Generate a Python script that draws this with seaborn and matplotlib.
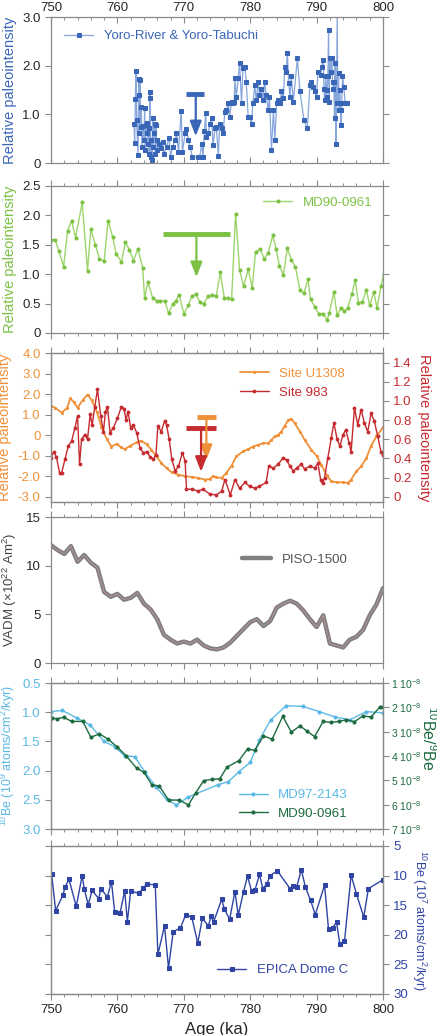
import seaborn as sns
import matplotlib.pyplot as plt
from matplotlib.ticker import MultipleLocator

# ---- Yoro-River & Yoro-Tabuchi (relative paleointensity)
yoro_age = [762.5, 762.6, 762.7, 762.8, 762.9, 763.1, 763.2, 763.25, 763.3, 763.4, 763.5, 763.6, 763.7,
            763.9, 764.0, 764.1, 764.2, 764.3, 764.4, 764.5, 764.6, 764.7, 764.8, 764.85, 764.9, 765.0,
            765.1, 765.2, 765.3, 765.4, 765.5, 765.6, 765.7, 765.8, 765.9, 766.0, 766.2, 766.5, 766.8,
            767.0, 767.4, 767.8, 768.0, 768.3, 768.7, 768.9, 769.2, 769.6, 769.8, 770.2, 770.4, 770.7,
            770.9, 771.3, 772.2, 772.4, 772.7, 772.9, 773.1, 773.3, 773.4, 773.7, 773.9, 774.2, 774.4,
            774.7, 774.9, 775.2, 775.4, 775.7, 775.9, 776.2, 776.4, 776.7, 776.9, 777.2, 777.4, 777.6,
            777.7, 777.9, 778.2, 778.4, 778.7, 778.9, 779.2, 779.4, 779.7, 779.9, 780.2, 780.4, 780.7,
            780.9, 781.2, 781.4, 781.7, 781.9, 782.2, 782.4, 782.7, 782.9, 783.2, 783.5, 783.7, 784.0,
            784.2, 784.5, 784.7, 785.0, 785.2, 785.4, 785.6, 785.8, 786.0, 786.2, 786.5, 787.1, 787.5,
            788.1, 788.6, 789.0, 789.2, 789.5, 789.7, 790.0, 790.2, 790.6, 790.8, 791.0, 791.1, 791.2,
            791.4, 791.5, 791.6, 791.7, 791.8, 791.9, 792.0, 792.1, 792.3, 792.4, 792.5, 792.6, 792.7,
            792.8, 792.9, 793.0, 793.1, 793.2, 793.3, 793.4, 793.5, 793.6, 793.7, 793.8, 793.9, 794.1,
            794.3, 794.6]
yoro_rpi = [0.81, 0.41, 1.31, 1.89, 0.89, 0.16, 1.40, 1.73, 0.61, 1.71, 0.74, 1.16, 0.33,
            0.76, 0.47, 1.14, 0.26, 0.78, 0.61, 0.83, 0.40, 0.71, 0.19, 1.33, 1.45, 0.12,
            0.47, 0.06, 0.92, 0.33, 0.61, 0.80, 0.19, 0.78, 0.47, 0.26, 0.40, 0.30, 0.43,
            0.19, 0.33, 0.52, 0.12, 0.33, 0.47, 0.62, 0.23, 1.07, 0.23, 0.61, 0.69, 0.47,
            0.33, 0.12, 0.12, 0.12, 0.40, 0.12, 0.66, 1.02, 0.54, 0.62, 0.81, 0.92, 0.36,
            0.71, 0.74, 0.14, 0.81, 0.71, 0.61, 1.05, 1.09, 1.23, 0.95, 1.26, 1.23, 1.26,
            1.74, 1.36, 1.74, 2.05, 1.23, 1.95, 1.98, 1.67, 0.95, 0.95, 0.81, 1.23, 1.60,
            1.29, 1.67, 1.40, 1.53, 1.29, 1.67, 1.40, 1.09, 1.36, 0.26, 1.09, 0.47, 1.23,
            1.29, 1.23, 1.47, 1.33, 1.98, 1.88, 2.26, 1.64, 1.36, 1.78, 1.26, 2.15, 1.47,
            0.88, 0.71, 1.60, 1.67, 1.57, 1.47, 1.36, 1.88, 1.81, 1.98, 2.12, 1.53, 1.29,
            1.78, 1.36, 1.50, 1.78, 2.74, 1.26, 2.15, 1.88, 2.15, 1.67, 1.53, 1.67, 0.92,
            2.05, 0.40, 1.23, 3.05, 1.23, 1.84, 1.09, 1.50, 1.09, 0.78, 1.23, 1.78, 1.57,
            1.23, 1.23]

# ---- MD90-0961 relative paleointensity
md90_age = [750.0, 750.6, 751.2, 751.9, 752.5, 753.1, 753.7, 754.7, 755.5, 756.0, 756.7, 757.3, 758.0,
            758.6, 759.3, 759.8, 760.6, 761.2, 761.8, 762.4, 763.1, 763.8, 764.1, 764.6, 765.3, 765.9,
            766.4, 767.1, 767.7, 768.4, 768.8, 769.3, 770.0, 770.7, 771.2, 771.8, 772.4, 773.0, 773.7,
            774.3, 774.9, 775.5, 776.1, 776.7, 777.2, 777.8, 778.4, 779.0, 779.7, 780.3, 780.8, 781.5,
            782.1, 782.7, 783.4, 783.9, 784.4, 785.0, 785.6, 786.2, 786.8, 787.5, 788.1, 788.7, 789.1,
            789.7, 790.3, 791.0, 791.6, 791.9, 792.6, 793.1, 793.7, 794.2, 794.7, 795.3, 795.8, 796.3,
            796.9, 797.5, 798.0, 798.6, 799.1, 799.7, 800.1]
md90_rpi = [1.58, 1.59, 1.39, 1.13, 1.74, 1.91, 1.62, 2.22, 1.06, 1.77, 1.49, 1.26, 1.22,
            1.91, 1.63, 1.35, 1.21, 1.54, 1.42, 1.23, 1.43, 1.11, 0.59, 0.87, 0.60, 0.55,
            0.54, 0.55, 0.34, 0.50, 0.55, 0.65, 0.33, 0.47, 0.63, 0.66, 0.53, 0.50, 0.63,
            0.65, 0.63, 1.03, 0.60, 0.60, 0.57, 2.03, 1.07, 0.80, 1.08, 0.77, 1.38, 1.43,
            1.26, 1.36, 1.66, 1.43, 1.14, 0.99, 1.44, 1.24, 1.13, 0.73, 0.68, 0.91, 0.57,
            0.45, 0.33, 0.33, 0.22, 0.34, 0.69, 0.30, 0.43, 0.37, 0.43, 0.66, 0.90, 0.51,
            0.53, 0.73, 0.47, 0.70, 0.43, 0.80, 1.00]

# ---- Site U1308 (left) and Site 983 (right)
u1308_age = [750.0, 750.6, 751.6, 752.4, 752.9, 753.4, 754.0, 754.8, 755.5, 756.1, 756.9, 757.6, 758.4,
             759.1, 759.9, 760.5, 761.1, 761.9, 762.9, 763.6, 764.4, 765.1, 765.9, 766.6, 767.4, 768.2,
             769.2, 770.2, 771.2, 772.2, 773.2, 773.9, 774.4, 774.9, 775.7, 776.4, 777.2, 777.9, 778.9,
             779.7, 780.4, 781.2, 781.9, 782.7, 783.2, 783.7, 784.2, 784.7, 785.2, 785.7, 786.2, 786.7,
             787.5, 788.2, 789.2, 790.0, 790.7, 791.5, 792.2, 793.0, 794.0, 794.7, 795.2, 796.0, 796.7,
             797.5, 798.2, 799.0, 800.0]
u1308_rpi = [1.44, 1.34, 1.10, 1.31, 1.79, 1.63, 1.34, 1.71, 1.98, 1.71, 1.15, 0.39, -0.19,
             -0.55, -0.42, -0.58, -0.68, -0.52, -0.35, -0.27, -0.44, -0.71, -1.03, -1.35, -1.60, -1.81,
             -1.92, -2.00, -2.03, -2.08, -2.16, -2.13, -2.00, -2.05, -2.08, -1.84, -1.48, -1.03, -0.79,
             -0.68, -0.55, -0.47, -0.39, -0.39, -0.23, -0.06, 0.02, 0.18, 0.45, 0.74, 0.79, 0.58,
             0.18, -0.23, -0.71, -1.00, -1.44, -1.92, -2.24, -2.29, -2.29, -2.32, -2.16, -1.76, -1.52,
             -1.11, -0.52, -0.06, 0.39]

s983_age = [750.0, 750.4, 750.8, 751.3, 751.6, 752.1, 752.6, 753.1, 753.6, 754.0, 754.3, 754.6, 755.1,
            755.5, 755.9, 756.2, 756.6, 757.0, 757.5, 757.9, 758.2, 758.5, 758.9, 759.4, 760.0, 760.6,
            761.0, 761.3, 761.6, 762.0, 762.4, 762.9, 763.4, 763.9, 764.4, 764.9, 765.4, 765.8, 766.1,
            766.6, 767.1, 767.4, 767.8, 768.2, 768.7, 769.2, 769.8, 770.2, 770.4, 771.2, 772.2, 772.9,
            773.9, 774.9, 775.7, 776.2, 777.0, 777.7, 778.4, 779.2, 779.9, 780.7, 781.4, 782.4, 782.8,
            783.5, 784.2, 785.0, 785.5, 786.0, 786.5, 787.0, 787.7, 788.2, 789.0, 789.7, 790.2, 790.6,
            790.9, 791.2, 791.7, 792.2, 792.6, 793.1, 793.5, 794.0, 794.4, 794.9, 795.2, 795.7, 796.2,
            796.7, 797.2, 797.7, 798.2, 798.7, 799.2, 799.7, 800.0]
s983_rpi = [0.41, 0.47, 0.42, 0.25, 0.25, 0.39, 0.53, 0.58, 0.72, 0.84, 0.34, 0.60, 0.65,
            0.60, 0.86, 0.75, 0.94, 1.12, 0.84, 0.68, 0.89, 0.94, 0.67, 0.72, 0.82, 0.94,
            0.92, 0.80, 0.89, 0.72, 0.75, 0.67, 0.51, 0.46, 0.47, 0.42, 0.39, 0.44, 0.74,
            0.68, 0.79, 0.75, 0.60, 0.39, 0.27, 0.32, 0.46, 0.37, 0.08, 0.08, 0.06, 0.08,
            0.03, 0.02, 0.06, 0.18, 0.02, 0.18, 0.09, 0.15, 0.11, 0.09, 0.11, 0.15, 0.32,
            0.30, 0.34, 0.41, 0.38, 0.32, 0.27, 0.30, 0.34, 0.29, 0.32, 0.30, 0.35, 0.18,
            0.14, 0.20, 0.41, 0.61, 0.77, 0.60, 0.53, 0.65, 0.70, 0.56, 0.47, 0.93, 0.75,
            0.91, 0.77, 0.68, 0.87, 0.79, 0.63, 0.47, 0.44]

# ---- PISO-1500 VADM
piso_age = list(range(750, 801))
piso_vadm = [12.1, 11.6, 11.2, 12.0, 10.4, 11.1, 10.3, 9.8, 7.3, 6.8, 7.1, 6.5, 6.7, 7.2, 6.1, 5.5, 4.5,
             2.9, 2.4, 2.0, 2.2, 2.0, 2.4, 1.8, 1.5, 1.4, 1.6, 2.1, 2.8, 3.5, 4.2, 4.5, 3.8, 4.3, 5.7,
             6.1, 6.4, 6.1, 5.4, 4.5, 3.7, 4.9, 2.0, 1.8, 1.6, 2.4, 2.7, 3.4, 4.9, 6.0, 7.7]

# ---- 10Be records
md97_age = [750.0, 751.7, 753.9, 755.9, 758.0, 759.6, 761.1, 762.6, 764.1, 765.8, 767.4, 768.9, 770.7,
            775.2, 776.7, 778.3, 780.0, 781.4, 783.1, 785.4, 787.9, 790.4, 792.7, 795.0, 797.5, 800.0]
md97_flux = [0.99, 0.97, 1.10, 1.22, 1.50, 1.59, 1.75, 1.76, 2.02, 2.28, 2.49, 2.59, 2.45,
             2.24, 2.19, 2.02, 1.86, 1.47, 1.13, 0.89, 0.90, 0.99, 1.08, 1.13, 0.99, 1.01]

md90be_age = [750.1, 750.9, 751.9, 753.1, 754.8, 756.0, 757.3, 758.6, 759.9, 761.3, 762.9, 764.0, 765.2,
              766.3, 767.7, 769.3, 770.7, 771.8, 773.0, 774.3, 775.4, 776.5, 778.3, 779.6, 780.7, 782.0,
              783.3, 784.9, 786.2, 787.5, 788.6, 789.7, 791.0, 792.1, 793.4, 794.5, 795.7, 797.0, 798.2,
              799.5, 800.0]
md90be_ratio = [2.44, 2.47, 2.41, 2.58, 2.58, 3.23, 3.09, 3.31, 3.61, 3.99, 4.50, 4.67, 5.19,
                5.23, 5.81, 5.81, 6.01, 5.51, 5.01, 4.96, 4.94, 4.46, 4.19, 3.71, 3.77, 3.17,
                3.31, 2.37, 3.02, 2.76, 2.99, 3.20, 2.58, 2.62, 2.58, 2.51, 2.59, 2.35, 2.40,
                1.99, 1.99]

epica_age = [750.1, 750.7, 751.8, 752.1, 752.7, 753.8, 754.7, 755.0, 755.6, 756.2, 757.2, 757.5, 758.5,
             759.1, 759.6, 760.4, 761.1, 761.5, 762.0, 763.2, 763.9, 764.4, 765.7, 766.1, 767.1, 767.7,
             768.4, 769.5, 770.3, 771.2, 772.1, 772.8, 773.7, 774.1, 774.5, 775.7, 776.1, 776.9, 777.7,
             778.2, 779.0, 779.6, 780.2, 780.7, 781.4, 781.9, 782.5, 783.0, 784.1, 786.0, 786.5, 787.0,
             787.7, 788.3, 789.1, 789.8, 791.2, 791.8, 792.4, 793.0, 793.5, 794.2, 795.2, 796.0, 797.1,
             797.8, 800.0]
epica_flux = [9.8, 15.9, 13.3, 12.0, 10.6, 15.2, 10.0, 12.2, 14.9, 12.5, 13.9, 12.2, 13.6,
              11.0, 16.2, 16.3, 12.6, 17.8, 12.6, 13.0, 12.1, 11.4, 11.6, 23.3, 18.5, 25.6,
              19.5, 18.8, 16.6, 17.0, 21.4, 17.2, 18.5, 16.9, 17.8, 14.0, 15.6, 17.4, 12.7,
              16.7, 12.7, 10.1, 12.6, 12.5, 9.8, 12.2, 11.4, 10.0, 9.2, 12.2, 11.7, 11.9,
              9.0, 11.9, 14.2, 16.6, 11.6, 19.1, 18.8, 17.9, 21.5, 21.1, 9.9, 13.1, 17.0,
              12.2, 10.7]

# T-shaped markers: (bar start, bar end, bar level, stem age, arrow tip)
yoro_mark = (770.3, 773.0, 1.42, 771.8, 0.55)
md90_mark = (766.9, 776.9, 1.69, 771.9, 0.95)
u1308_mark = (772.0, 774.9, 0.90, 773.4, -1.20)
s983_mark = (770.3, 774.9, 0.34, 772.6, -1.78)

C_YORO = '#3a66b8'
C_GREEN = '#7cc142'
C_ORANGE = '#f0913a'
C_RED = '#c52a2f'
C_GREY = '#808080'
C_LBLUE = '#5ab9e4'
C_DGREEN = '#1c6b3e'
C_NAVY = '#2f44a3'
SPINE = '#8a8a8a'

sns.set_style('ticks')
plt.rcParams['font.family'] = ['Liberation Sans', 'DejaVu Sans']
plt.rcParams['mathtext.fontset'] = 'custom'
plt.rcParams['mathtext.rm'] = 'Liberation Sans'

fig = plt.figure(figsize=(4.37, 10.35), dpi=100)
L, W = 51 / 437, 332 / 437
tops = [17, 186, 353, 517, 683, 846]
bots = [163, 333, 502, 663, 829, 994]
axes = []
for t, b in zip(tops, bots):
    axes.append(fig.add_axes([L, 1 - b / 1035, W, (b - t) / 1035]))


def style(ax, top_labels=False, bottom_labels=False):
    ax.set_xlim(750, 800)
    ax.xaxis.set_major_locator(MultipleLocator(10))
    ax.xaxis.set_minor_locator(MultipleLocator(2))
    ax.tick_params(axis='x', which='both', top=True, bottom=True,
                   labeltop=top_labels, labelbottom=bottom_labels)
    ax.tick_params(which='major', length=4, width=0.8, color=SPINE, labelsize=9.5)
    ax.tick_params(which='minor', length=2.5, width=0.7, color=SPINE)
    for s in ax.spines.values():
        s.set_color(SPINE)
        s.set_linewidth(0.9)
    ax.set_xlabel('')


def tmark(ax, mark, color, lw=3.5):
    x0, x1, yb, xs, yt = mark
    ax.plot([x0, x1], [yb, yb], color=color, lw=lw, solid_capstyle='butt')
    ax.annotate('', xy=(xs, yt), xytext=(xs, yb), arrowprops=dict(
        arrowstyle='-|>,head_width=0.35,head_length=0.9', color=color, lw=1.6, shrinkA=0, shrinkB=0))


# Panel 1
ax = axes[0]
sns.lineplot(x=yoro_age, y=yoro_rpi, ax=ax, estimator=None, sort=False, color='#86a6dc', lw=0.9,
             marker='s', markersize=3.0, markerfacecolor=C_YORO, markeredgecolor=C_YORO,
             label='Yoro-River & Yoro-Tabuchi')
ax.set_ylim(0, 3.0)
ax.set_yticks([0, 1, 2, 3])
ax.set_yticklabels(['0', '1.0', '2.0', '3.0'])
ax.tick_params(axis='y', right=True)
style(ax, top_labels=True)
ax.tick_params(axis='x', which='both', direction='in', pad=2)
tmark(ax, yoro_mark, C_YORO)
ax.set_ylabel('Relative paleointensity', color=C_YORO, fontsize=10.5)
leg = ax.legend(loc='upper left', frameon=False, fontsize=9.5, handlelength=2.2, borderaxespad=0.6)
for txt in leg.get_texts():
    txt.set_color(C_YORO)

# Panel 2
ax = axes[1]
sns.lineplot(x=md90_age, y=md90_rpi, ax=ax, estimator=None, sort=False, color='#9dd56b', lw=1.0,
             marker='o', markersize=2.2, markerfacecolor=C_GREEN, markeredgecolor=C_GREEN,
             label='MD90-0961')
ax.set_ylim(0, 2.5)
ax.set_yticks([0, 0.5, 1.0, 1.5, 2.0, 2.5])
ax.set_yticklabels(['0', '0.5', '1.0', '1.5', '2.0', '2.5'])
ax.tick_params(axis='y', right=True)
style(ax)
tmark(ax, md90_mark, C_GREEN)
ax.set_ylabel('Relative paleointensity', color=C_GREEN, fontsize=10.5)
leg = ax.legend(loc='upper right', frameon=False, fontsize=9.5, handlelength=2.2, borderaxespad=0.4)
for txt in leg.get_texts():
    txt.set_color(C_GREEN)

# Panel 3
ax = axes[2]
ax2 = ax.twinx()
sns.lineplot(x=u1308_age, y=u1308_rpi, ax=ax, estimator=None, sort=False, color=C_ORANGE, lw=1.3,
             marker='o', markersize=1.5, markeredgecolor=C_ORANGE, label='Site U1308')
sns.lineplot(x=s983_age, y=s983_rpi, ax=ax2, estimator=None, sort=False, color=C_RED, lw=1.0,
             marker='o', markersize=2.0, markeredgecolor=C_RED, label='Site 983')
ax.set_ylim(-3.25, 4.0)
ax2.set_ylim((-3.25 + 3) / 7 * 1.5, 1.5)
ax.set_yticks([-3, -2, -1, 0, 1, 2, 3, 4])
ax.set_yticklabels(['-3.0', '-2.0', '-1.0', '0', '1.0', '2.0', '3.0', '4.0'])
ax2.set_yticks([0, 0.2, 0.4, 0.6, 0.8, 1.0, 1.2, 1.4])
ax2.set_yticklabels(['0', '0.2', '0.4', '0.6', '0.8', '1.0', '1.2', '1.4'])
style(ax)
style(ax2)
ax.tick_params(axis='y', labelcolor=C_ORANGE)
ax2.tick_params(axis='y', labelcolor=C_RED)
tmark(ax, u1308_mark, C_ORANGE)
tmark(ax, s983_mark, C_RED)
ax.set_ylabel('Relative paleointensity', color=C_ORANGE, fontsize=10.5)
ax2.set_ylabel('Relative paleointensity', color=C_RED, fontsize=10.5, rotation=270)
ax2.yaxis.set_label_coords(1.145, 0.5)
h1, l1 = ax.get_legend_handles_labels()
h2, l2 = ax2.get_legend_handles_labels()
if ax2.get_legend():
    ax2.get_legend().remove()
leg = ax.legend(h1 + h2, l1 + l2, loc='upper right', frameon=False, fontsize=9.5,
                handlelength=2.2, borderaxespad=0.7, bbox_to_anchor=(0.93, 1.0))
leg.get_texts()[0].set_color(C_ORANGE)
leg.get_texts()[1].set_color(C_RED)

# Panel 4
ax = axes[3]
sns.lineplot(x=piso_age, y=piso_vadm, ax=ax, estimator=None, sort=False, color=C_GREY, lw=3.2,
             label='PISO-1500')
ax.plot(piso_age, piso_vadm, color='#c89a9a', lw=0.5)
ax.set_ylim(0, 15)
ax.set_yticks([0, 5, 10, 15])
style(ax)
ax.set_ylabel('VADM (×10$^{22}$ Am$^2$)', color='#444444', fontsize=9.5)
ax.yaxis.set_label_coords(-0.095, 0.5)
leg = ax.legend(loc='upper right', frameon=False, fontsize=9.5, handlelength=2.2,
                bbox_to_anchor=(0.93, 0.83))
for txt in leg.get_texts():
    txt.set_color('#555555')

# Panel 5
ax = axes[4]
ax2 = ax.twinx()
sns.lineplot(x=md97_age, y=md97_flux, ax=ax, estimator=None, sort=False, color=C_LBLUE, lw=1.0,
             marker='o', markersize=2.2, markeredgecolor=C_LBLUE, label='MD97-2143')
sns.lineplot(x=md90be_age, y=md90be_ratio, ax=ax2, estimator=None, sort=False, color=C_DGREEN, lw=1.0,
             marker='o', markersize=2.2, markeredgecolor=C_DGREEN, label='MD90-0961')
ax.set_ylim(3.0, 0.5)
ax2.set_ylim(7, 1)
ax.set_yticks([0.5, 1.0, 1.5, 2.0, 2.5, 3.0])
ax2.set_yticks([1, 2, 3, 4, 5, 6, 7])
ax2.set_yticklabels(['%d 10$^{-8}$' % v for v in [1, 2, 3, 4, 5, 6, 7]])
style(ax)
style(ax2)
ax.tick_params(axis='y', labelcolor=C_LBLUE)
ax2.tick_params(axis='y', labelcolor=C_DGREEN, labelsize=7.5, pad=1.5)
ax.set_ylabel('$^{10}$Be (10$^9$ atoms/cm$^2$/kyr)', color=C_LBLUE, fontsize=9)
ax2.set_ylabel('$^{10}$Be/$^9$Be', color=C_DGREEN, fontsize=11.5, rotation=270)
ax2.yaxis.set_label_coords(1.165, 0.62)
h1, l1 = ax.get_legend_handles_labels()
h2, l2 = ax2.get_legend_handles_labels()
if ax2.get_legend():
    ax2.get_legend().remove()
leg = ax.legend(h1 + h2, l1 + l2, loc='lower right', frameon=False, fontsize=9.5,
                handlelength=2.2, bbox_to_anchor=(0.93, -0.02))
leg.get_texts()[0].set_color(C_LBLUE)
leg.get_texts()[1].set_color(C_DGREEN)

# Panel 6
ax = axes[5]
ax2 = ax.twinx()
sns.lineplot(x=epica_age, y=epica_flux, ax=ax2, estimator=None, sort=False, color=C_NAVY, lw=1.0,
             marker='s', markersize=2.2, markeredgecolor=C_NAVY, label='EPICA Dome C')
ax2.set_ylim(30, 5)
ax.set_ylim(30, 5)
ax2.set_yticks([5, 10, 15, 20, 25, 30])
ax.set_yticks([5, 10, 15, 20, 25, 30])
ax.set_yticklabels([])
style(ax, bottom_labels=True)
style(ax2, bottom_labels=True)
ax2.tick_params(axis='y', labelcolor=C_NAVY)
ax2.set_ylabel('$^{10}$Be (10$^7$ atoms/cm$^2$/kyr)', color=C_NAVY, fontsize=9, rotation=270)
ax2.yaxis.set_label_coords(1.135, 0.5)
ax.set_xlabel('Age (ka)', fontsize=12)
leg = ax2.legend(loc='lower right', frameon=False, fontsize=9.5, handlelength=2.2,
                 bbox_to_anchor=(0.93, 0.04))
for txt in leg.get_texts():
    txt.set_color(C_NAVY)

fig.savefig('out.png', dpi=100)
plt.close(fig)
